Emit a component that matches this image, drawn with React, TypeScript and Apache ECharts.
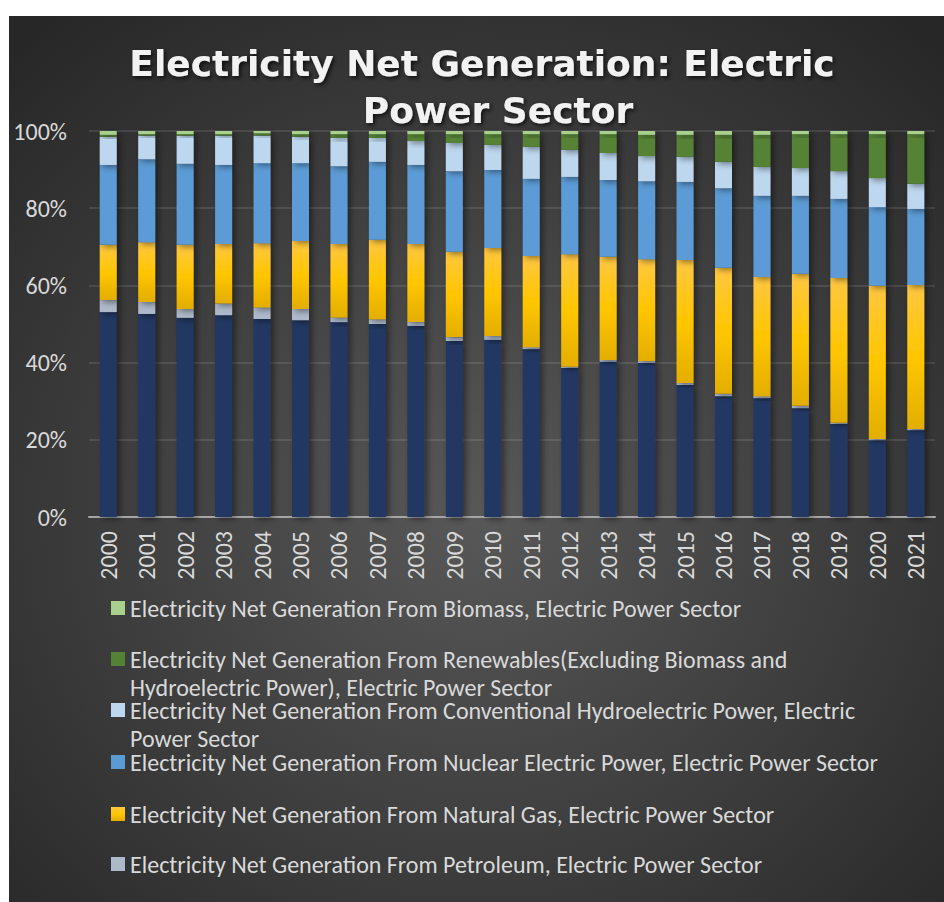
import React, { useEffect, useRef } from "react";
import * as echarts from "echarts";

// Share of electric power sector net generation by source, percent of total
const years = [
  "2000", "2001", "2002", "2003", "2004", "2005", "2006", "2007", "2008", "2009", "2010",
  "2011", "2012", "2013", "2014", "2015", "2016", "2017", "2018", "2019", "2020", "2021",
];
const coal = [
  53.1, 52.6, 51.6, 52.3, 51.3, 51.0, 50.5, 50.0, 49.5, 45.6, 45.9,
  43.5, 38.6, 40.2, 39.9, 34.2, 31.3, 30.8, 28.2, 24.1, 19.9, 22.5,
];
const petroleum = [
  3.1, 3.1, 2.3, 3.0, 3.0, 2.9, 1.2, 1.2, 1.0, 1.0, 1.0,
  0.5, 0.3, 0.5, 0.5, 0.5, 0.6, 0.5, 0.6, 0.3, 0.3, 0.3,
];
const naturalGas = [
  14.3, 15.5, 16.6, 15.4, 16.6, 17.6, 19.0, 20.6, 20.2, 22.1, 22.8,
  23.6, 29.2, 26.7, 26.4, 31.9, 32.7, 30.9, 34.2, 37.5, 39.7, 37.3,
];
const nuclear = [
  20.7, 21.5, 21.0, 20.5, 20.8, 20.2, 20.2, 20.2, 20.5, 20.9, 20.2,
  20.0, 20.0, 19.9, 20.2, 20.2, 20.6, 21.0, 20.2, 20.5, 20.4, 19.7,
];
const hydro = [
  7.3, 6.1, 7.3, 7.6, 7.1, 6.8, 7.3, 6.2, 6.2, 7.3, 6.5,
  8.3, 7.0, 7.0, 6.5, 6.5, 6.8, 7.5, 7.2, 7.2, 7.5, 6.5,
];
const renewables = [
  0.5, 0.4, 0.4, 0.4, 0.6, 0.7, 1.0, 1.0, 1.8, 2.3, 2.8,
  3.3, 4.1, 4.9, 5.5, 5.7, 7.0, 8.3, 8.8, 9.6, 11.4, 12.9,
];
const biomass = [
  1.0, 0.8, 0.8, 0.8, 0.6, 0.8, 0.8, 0.8, 0.8, 0.8, 0.8,
  0.8, 0.8, 0.8, 1.0, 1.0, 1.0, 1.0, 0.8, 0.8, 0.8, 0.8,
];

// Title, one entry per line
const titleLines = ["Electricity Net Generation: Electric", "Power Sector"];

const NAME_COAL = "Electricity Net Generation From Coal, Electric Power Sector";
const NAME_PETROLEUM = "Electricity Net Generation From Petroleum, Electric Power Sector";
const NAME_GAS = "Electricity Net Generation From Natural Gas, Electric Power Sector";
const NAME_NUCLEAR = "Electricity Net Generation From Nuclear Electric Power, Electric Power Sector";
const NAME_HYDRO = "Electricity Net Generation From Conventional Hydroelectric Power, Electric Power Sector";
const NAME_RENEWABLES =
  "Electricity Net Generation From Renewables(Excluding Biomass and Hydroelectric Power), Electric Power Sector";
const NAME_BIOMASS = "Electricity Net Generation From Biomass, Electric Power Sector";

// Legend rows, top to bottom, split where the text wraps
const legendRows = [
  { name: NAME_BIOMASS, lines: [NAME_BIOMASS] },
  {
    name: NAME_RENEWABLES,
    lines: [
      "Electricity Net Generation From Renewables(Excluding Biomass and",
      "Hydroelectric Power), Electric Power Sector",
    ],
  },
  {
    name: NAME_HYDRO,
    lines: [
      "Electricity Net Generation From Conventional Hydroelectric Power, Electric",
      "Power Sector",
    ],
  },
  { name: NAME_NUCLEAR, lines: [NAME_NUCLEAR] },
  { name: NAME_GAS, lines: [NAME_GAS] },
  { name: NAME_PETROLEUM, lines: [NAME_PETROLEUM] },
];

const FONT = "Carlito, Lato, 'Open Sans', sans-serif";
const TITLE_FONT = "'DejaVu Sans', sans-serif";
const TEXT_COLOR = "#d9d9d9";

export default function App() {
  const ref = useRef<HTMLDivElement>(null);

  useEffect(() => {
    if (!ref.current) return;
    const chart = echarts.init(ref.current, undefined, { renderer: "svg" });

    const gasFill = new echarts.graphic.LinearGradient(0, 0, 0, 1, [
      { offset: 0, color: "#FFC742" },
      { offset: 0.5, color: "#FFC600" },
      { offset: 1, color: "#E3AE00" },
    ]);

    const barSeries = (name: string, data: number[], color: any) => ({
      name,
      type: "bar",
      stack: "share",
      data,
      barWidth: 17,
      itemStyle: {
        color,
        shadowColor: "rgba(0,0,0,0.45)",
        shadowBlur: 6,
        shadowOffsetX: 3,
        shadowOffsetY: 2,
      },
      emphasis: { disabled: true },
    });

    // One legend per row so each row sits at its own height; the wrapped
    // part of a long entry continues on the line below its first line.
    const lineGap = 29;
    const legendLeft = 102;
    const iconSize = 14;
    const textX = legendLeft + iconSize + 5;
    const legendCenters = [591, 642, 693, 745, 797, 847];
    const legends = legendRows.map((row, i) => ({
      data: [row.name],
      left: legendLeft,
      top: legendCenters[i] - 11,
      padding: 0,
      itemWidth: iconSize,
      itemHeight: iconSize,
      icon: "rect",
      selectedMode: false,
      formatter: () => row.lines[0],
      textStyle: {
        color: TEXT_COLOR,
        fontSize: 24,
        fontFamily: FONT,
        lineHeight: 22,
      },
    }));
    const continuations = legendRows.flatMap((row, i) =>
      row.lines.slice(1).map((line, k) => ({
        type: "text",
        x: textX,
        y: legendCenters[i] + lineGap * (k + 1),
        silent: true,
        style: {
          text: line,
          fill: TEXT_COLOR,
          fontSize: 24,
          fontFamily: FONT,
          lineHeight: 22,
          verticalAlign: "middle",
          align: "left",
        },
      }))
    );

    const titleStyle = {
      color: "#f2f2f2",
      fontSize: 36,
      fontWeight: "bold",
      fontFamily: TITLE_FONT,
      lineHeight: 48,
      textShadowColor: "rgba(0,0,0,0.7)",
      textShadowBlur: 4,
      textShadowOffsetX: 2,
      textShadowOffsetY: 2,
    };

    chart.setOption({
      animation: false,
      backgroundColor: new echarts.graphic.RadialGradient(0.5, 0.56, 0.72, [
        { offset: 0, color: "#585858" },
        { offset: 1, color: "#272727" },
      ]),
      title: [
        { text: titleLines[0], left: 473, textAlign: "center", top: 23, padding: 0, textStyle: titleStyle },
        { text: titleLines[1], left: 489, textAlign: "center", top: 70, padding: 0, textStyle: titleStyle },
      ],
      legend: legends,
      graphic: continuations,
      grid: { left: 80, right: 9, top: 115, bottom: 385 },
      xAxis: {
        type: "category",
        data: years,
        axisTick: { show: false },
        axisLine: { lineStyle: { color: "#a6a6a6", width: 2 } },
        axisLabel: {
          rotate: 90,
          margin: 14,
          color: TEXT_COLOR,
          fontSize: 24,
          fontFamily: FONT,
        },
      },
      yAxis: {
        type: "value",
        min: 0,
        max: 100,
        interval: 20,
        axisLine: { show: false },
        axisTick: { show: false },
        splitLine: { lineStyle: { color: "rgba(255,255,255,0.1)", width: 2 } },
        axisLabel: {
          formatter: "{value}%",
          margin: 22,
          color: TEXT_COLOR,
          fontSize: 24,
          fontFamily: FONT,
        },
      },
      series: [
        barSeries(NAME_COAL, coal, "#203864"),
        barSeries(NAME_PETROLEUM, petroleum, "#ADB9CA"),
        barSeries(NAME_GAS, naturalGas, gasFill),
        barSeries(NAME_NUCLEAR, nuclear, "#5B9BD5"),
        barSeries(NAME_HYDRO, hydro, "#BDD7EE"),
        barSeries(NAME_RENEWABLES, renewables, "#548235"),
        barSeries(NAME_BIOMASS, biomass, "#A9D18E"),
      ],
    });

    return () => chart.dispose();
  }, []);

  return (
    <div style={{ position: "absolute", left: 0, top: 0, width: 944, height: 902, background: "#ffffff", overflow: "hidden" }}>
      <div ref={ref} style={{ position: "absolute", left: 9, top: 16, width: 935, height: 886 }} />
    </div>
  );
}
